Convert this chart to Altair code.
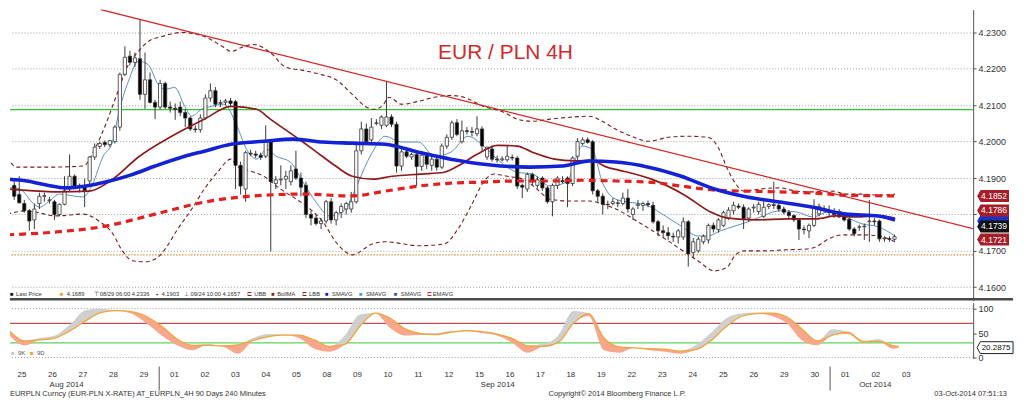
import altair as alt
import pandas as pd

# ---------------- 4H candles (index 0 = 25 Aug 2014 00:00, 6 bars per day) ----------------
opens = [4.1880,4.1855,4.1830,4.1810,4.1785,4.1830, 4.1850,4.1838,4.1835,4.1800,4.1828,4.1870,
         4.1905,4.1875,4.1875,4.1892,4.1958,4.1987, 4.1998,4.1992,4.2000,4.2040,4.2185,4.2235,
         4.2218,4.2228,4.2130,4.2170,4.2108,4.2095, 4.2160,4.2095,4.2092,4.2095,4.2080,4.2065,
         4.2035,4.2033,4.2065,4.2120,4.2140,4.2105, 4.2108,4.2112,4.2110,4.1935,4.1870,4.1968,
         4.1966,4.1963,4.1960,4.2000,4.1885,4.1895, 4.1897,4.1890,4.1925,4.1900,4.1880,4.1800,
         4.1790,4.1775,4.1782,4.1835,4.1785,4.1805, 4.1815,4.1815,4.1835,4.1975,4.2035,4.2005,
         4.2050,4.2045,4.2045,4.2068,4.2048,4.1933, 4.1972,4.1958,4.1965,4.1932,4.1963,4.1935,
         4.1952,4.1930,4.1988,4.2012,4.2052,4.2000, 4.2030,4.2028,4.2022,4.2035,4.1958,4.1980,
         4.1952,4.1950,4.1950,4.1957,4.1955,4.1880, 4.1870,4.1910,4.1880,4.1900,4.1873,4.1835,
         4.1880,4.1893,4.1900,4.1885,4.1960,4.1995, 4.2005,4.2000,4.1865,4.1850,4.1828,4.1830,
         4.1830,4.1830,4.1845,4.1800,4.1825,4.1825, 4.1830,4.1825,4.1780,4.1755,4.1750,4.1740,
         4.1738,4.1738,4.1780,4.1695,4.1700,4.1725, 4.1730,4.1770,4.1758,4.1770,4.1790,4.1810,
         4.1823,4.1820,4.1790,4.1818,4.1808,4.1795, 4.1822,4.1827,4.1825,4.1815,4.1806,4.1797,
         4.1785,4.1760,4.1755,4.1770,4.1802,4.1815, 4.1808,4.1808,4.1808,4.1795,4.1787,4.1760,
         4.1765,4.1766,4.1780,4.1782,4.1782,4.1733, 4.1733,4.1732]
highs = [4.1895,4.1905,4.1840,4.1815,4.1830,4.1860, 4.1860,4.1848,4.1840,4.1830,4.1905,4.1965,
         4.1910,4.1885,4.1898,4.1960,4.1995,4.2000, 4.2003,4.2005,4.2045,4.2190,4.2262,4.2250,
         4.2245,4.2336,4.2245,4.2190,4.2115,4.2170, 4.2165,4.2110,4.2105,4.2110,4.2090,4.2070,
         4.2045,4.2075,4.2130,4.2160,4.2150,4.2115, 4.2118,4.2120,4.2115,4.1945,4.1975,4.1978,
         4.1975,4.1970,4.2045,4.2005,4.1905,4.1935, 4.1920,4.1935,4.1975,4.1915,4.1890,4.1810,
         4.1800,4.1790,4.1840,4.1845,4.1810,4.1830, 4.1835,4.1862,4.2000,4.2055,4.2050,4.2065,
         4.2062,4.2072,4.2167,4.2075,4.2055,4.1985, 4.1985,4.1970,4.1975,4.1975,4.1970,4.1965,
         4.1960,4.1995,4.2020,4.2058,4.2062,4.2058, 4.2040,4.2040,4.2070,4.2042,4.1985,4.1990,
         4.1962,4.1960,4.1990,4.1965,4.1960,4.1885, 4.1915,4.1915,4.1905,4.1905,4.1878,4.1885,
         4.1905,4.1905,4.1905,4.1960,4.2010,4.2012, 4.2012,4.2005,4.1870,4.1858,4.1838,4.1845,
         4.1840,4.1860,4.1870,4.1820,4.1840,4.1835, 4.1838,4.1835,4.1785,4.1770,4.1765,4.1750,
         4.1760,4.1792,4.1785,4.1735,4.1738,4.1745, 4.1775,4.1778,4.1790,4.1810,4.1820,4.1835,
         4.1830,4.1828,4.1820,4.1828,4.1835,4.1842, 4.1830,4.1890,4.1835,4.1822,4.1812,4.1800,
         4.1790,4.1770,4.1775,4.1842,4.1830,4.1825, 4.1825,4.1818,4.1815,4.1800,4.1792,4.1765,
         4.1772,4.1775,4.1840,4.1790,4.1786,4.1740, 4.1740,4.1745]
lows = [4.1840,4.1830,4.1805,4.1755,4.1760,4.1815, 4.1835,4.1830,4.1785,4.1795,4.1825,4.1862,
        4.1872,4.1860,4.1820,4.1880,4.1950,4.1980, 4.1985,4.1985,4.1995,4.2030,4.2180,4.2210,
        4.2205,4.2115,4.2090,4.2105,4.2062,4.2088, 4.2090,4.2080,4.2060,4.2070,4.2040,4.2030,
        4.2025,4.2025,4.2060,4.2110,4.2095,4.2095, 4.2100,4.2095,4.1870,4.1855,4.1835,4.1960,
        4.1955,4.1950,4.1955,4.1698,4.1870,4.1880, 4.1870,4.1880,4.1895,4.1850,4.1790,4.1770,
        4.1770,4.1760,4.1775,4.1775,4.1770,4.1790, 4.1800,4.1805,4.1830,4.1965,4.1995,4.1995,
        4.2045,4.2035,4.2040,4.2040,4.1915,4.1920, 4.1955,4.1950,4.1878,4.1920,4.1925,4.1920,
        4.1920,4.1925,4.1980,4.2005,4.2015,4.1995, 4.2020,4.2015,4.2015,4.1975,4.1950,4.1945,
        4.1942,4.1945,4.1945,4.1948,4.1870,4.1845, 4.1862,4.1880,4.1872,4.1865,4.1830,4.1795,
        4.1870,4.1885,4.1820,4.1878,4.1950,4.1990, 4.1995,4.1855,4.1835,4.1800,4.1815,4.1825,
        4.1820,4.1825,4.1805,4.1785,4.1815,4.1810, 4.1820,4.1775,4.1740,4.1735,4.1730,4.1725,
        4.1720,4.1730,4.1657,4.1680,4.1695,4.1718, 4.1720,4.1750,4.1750,4.1765,4.1785,4.1800,
        4.1815,4.1760,4.1780,4.1805,4.1800,4.1790, 4.1815,4.1815,4.1808,4.1800,4.1790,4.1780,
        4.1730,4.1745,4.1735,4.1765,4.1795,4.1805, 4.1795,4.1790,4.1790,4.1780,4.1755,4.1740,
        4.1755,4.1730,4.1725,4.1770,4.1725,4.1725, 4.1725,4.1728]
closes = [4.1850,4.1832,4.1810,4.1782,4.1815,4.1850, 4.1852,4.1840,4.1800,4.1828,4.1865,4.1905,
          4.1875,4.1880,4.1865,4.1958,4.1985,4.1995, 4.1992,4.2003,4.2040,4.2185,4.2232,4.2218,
          4.2230,4.2130,4.2170,4.2108,4.2095,4.2160, 4.2095,4.2092,4.2088,4.2080,4.2065,4.2035,
          4.2033,4.2065,4.2120,4.2140,4.2103,4.2108, 4.2112,4.2105,4.1935,4.1878,4.1970,4.1966,
          4.1963,4.1957,4.2000,4.1890,4.1895,4.1897, 4.1905,4.1920,4.1900,4.1875,4.1800,4.1790,
          4.1775,4.1782,4.1835,4.1785,4.1805,4.1822, 4.1830,4.1835,4.1975,4.2035,4.2000,4.2040,
          4.2052,4.2068,4.2068,4.2048,4.1933,4.1972, 4.1960,4.1965,4.1932,4.1963,4.1938,4.1952,
          4.1930,4.1988,4.2012,4.2052,4.2020,4.2030, 4.2028,4.2026,4.2035,4.1988,4.1985,4.1952,
          4.1950,4.1953,4.1960,4.1955,4.1878,4.1875, 4.1910,4.1890,4.1895,4.1873,4.1835,4.1880,
          4.1900,4.1890,4.1885,4.1955,4.2000,4.2005, 4.1998,4.1865,4.1850,4.1828,4.1827,4.1835,
          4.1832,4.1845,4.1815,4.1815,4.1828,4.1830, 4.1827,4.1780,4.1755,4.1750,4.1742,4.1738,
          4.1755,4.1780,4.1692,4.1725,4.1732,4.1740, 4.1770,4.1760,4.1785,4.1805,4.1812,4.1825,
          4.1820,4.1788,4.1815,4.1820,4.1828,4.1820, 4.1827,4.1825,4.1815,4.1806,4.1797,4.1785,
          4.1760,4.1758,4.1770,4.1822,4.1822,4.1815, 4.1806,4.1800,4.1793,4.1785,4.1760,4.1747,
          4.1766,4.1768,4.1782,4.1780,4.1733,4.1735, 4.1732,4.1739]

# ---------------- overlay studies (bar index, price) ----------------
sma_blue_j = [-1.4, 2.5, 6.4, 10.3, 14.3, 18.2, 23.1, 28.0, 33.9, 37.8, 43.1, 49.6, 55.5, 61.4, 67.2, 73.7,
              80.4, 86.8, 94.7, 102.5, 109.0, 114.3, 119.6, 126.1, 132.6, 139.2, 145.7, 152.2, 158.8, 165.3, 171.8, 175.1]
sma_blue_v = [4.1897, 4.1892, 4.1881, 4.1873, 4.1878, 4.1889, 4.1908, 4.1933, 4.1960, 4.1974, 4.1993, 4.2001,
              4.2007, 4.1999, 4.1996, 4.1993, 4.1971, 4.1952, 4.1936, 4.1930, 4.1933, 4.1947, 4.1944, 4.1930,
              4.1905, 4.1870, 4.1848, 4.1834, 4.1820, 4.1801, 4.1796, 4.1785]
ema_j = [-1.4, 8.4, 18.2, 28.0, 37.8, 47.6, 57.4, 67.2, 73.7, 80.4, 86.8, 93.3, 100.0, 106.5, 112.9, 119.6,
         126.1, 132.6, 139.2, 145.7, 152.2, 158.8, 165.3, 175.1]
ema_v = [4.1744, 4.1752, 4.1768, 4.1801, 4.1834, 4.1851, 4.1856, 4.1851, 4.1864, 4.1878, 4.1886, 4.1889,
         4.1892, 4.1892, 4.1894, 4.1892, 4.1889, 4.1878, 4.1867, 4.1864, 4.1862, 4.1859, 4.1853, 4.1851]
bma_j = [-1.4, 5.05, 8.4, 14.9, 19.6, 24.7, 31.3, 37.8, 43.1, 48.2, 50.9, 57.4, 59.4, 63.9, 67.2, 71.2, 75.1,
         80.9, 85.5, 88.2, 92.1, 96.1, 100.0, 103.0, 107.4, 111.4, 114.7, 117.8, 120.2, 126.7, 133.3, 138.4,
         141.8, 147.7, 153.6, 159.4, 163.4, 167.3, 171.8, 175.1]
bma_v = [4.1870, 4.1864, 4.1862, 4.1864, 4.1897, 4.1958, 4.2015, 4.2062, 4.2097, 4.2089, 4.2062, 4.1999,
         4.1979, 4.1933, 4.1905, 4.1897, 4.1905, 4.1911, 4.1916, 4.1933, 4.1966, 4.1990, 4.1988, 4.1971,
         4.1952, 4.1947, 4.1949, 4.1930, 4.1922, 4.1897, 4.1853, 4.1807, 4.1790, 4.1785, 4.1788, 4.1788,
         4.1796, 4.1793, 4.1796, 4.1790]
ubb_j = [-1.4, 0.5, 6.4, 13.7, 16.2, 18.2, 20.2, 22.7, 24.7, 26.6, 29.4, 33.3, 37.8, 41.7, 43.1, 45.7, 47.6,
         50.9, 54.1, 57.4, 60.8, 63.9, 67.2, 69.8, 71.2, 73.1, 74.5, 77.0, 80.4, 83.5, 86.8, 89.4, 93.3, 97.3,
         100.0, 103.1, 106.5, 110.4, 114.3, 116.9, 119.6, 122.7, 126.1, 130.0, 133.9, 137.9, 139.8, 141.8,
         143.2, 145.1, 148.3, 152.2, 155.5, 158.8, 162.8, 165.3, 168.6, 171.8, 175.1]
ubb_v = [4.1958, 4.1930, 4.1930, 4.1933, 4.1985, 4.2048, 4.2122, 4.2212, 4.2248, 4.2275, 4.2289, 4.2300,
         4.2289, 4.2259, 4.2248, 4.2262, 4.2267, 4.2245, 4.2204, 4.2196, 4.2185, 4.2171, 4.2130, 4.2097,
         4.2089, 4.2097, 4.2122, 4.2103, 4.2111, 4.2122, 4.2127, 4.2122, 4.2097, 4.2081, 4.2062, 4.2056,
         4.2062, 4.2067, 4.2070, 4.2056, 4.2034, 4.2015, 4.2001, 4.2012, 4.2015, 4.2012, 4.1988, 4.1925,
         4.1889, 4.1864, 4.1870, 4.1873, 4.1864, 4.1862, 4.1864, 4.1856, 4.1856, 4.1853, 4.1856]
lbb_j = [-1.4, 2.5, 8.4, 13.7, 16.8, 19.6, 21.5, 23.5, 26.0, 28.6, 30.0, 32.5, 35.3, 37.8, 40.4, 43.1, 44.3,
         47.0, 49.6, 52.9, 56.1, 58.8, 61.4, 63.9, 65.9, 67.2, 71.2, 73.7, 80.4, 85.5, 88.2, 90.8, 93.3, 95.3,
         98.0, 101.2, 103.9, 106.5, 110.4, 114.3, 116.9, 119.6, 124.1, 129.4, 132.6, 135.9, 139.2, 141.8,
         143.2, 145.1, 149.0, 153.6, 157.5, 159.4, 161.9, 164.7, 168.6, 171.8, 175.1]
lbb_v = [4.1801, 4.1810, 4.1796, 4.1801, 4.1782, 4.1747, 4.1700, 4.1673, 4.1670, 4.1683, 4.1705, 4.1760,
         4.1815, 4.1870, 4.1916, 4.1952, 4.1933, 4.1919, 4.1905, 4.1870, 4.1842, 4.1815, 4.1779, 4.1725,
         4.1697, 4.1689, 4.1719, 4.1725, 4.1714, 4.1719, 4.1760, 4.1823, 4.1889, 4.1911, 4.1905, 4.1897,
         4.1870, 4.1842, 4.1837, 4.1837, 4.1829, 4.1815, 4.1779, 4.1733, 4.1703, 4.1673, 4.1645, 4.1656,
         4.1686, 4.1700, 4.1700, 4.1703, 4.1705, 4.1711, 4.1733, 4.1744, 4.1744, 4.1741, 4.1725]
thin_j = [-1.4, 1.1, 3.9, 5.05, 7.0, 9.0, 11.7, 13.7, 15.6, 17.6, 19.6, 20.7, 22.7, 24.7, 26.6, 28.6, 30.0,
          31.9, 33.9, 35.3, 37.2, 39.2, 41.7, 44.3, 46.2, 48.2, 50.2, 52.1, 54.9, 57.4, 60.0, 62.7, 65.9, 67.2,
          71.2, 73.7, 77.0, 80.4, 83.5, 86.8, 90.2, 93.3, 96.7, 100.0, 103.1, 106.5, 109.8, 112.9, 114.9,
          116.9, 119.6, 126.1, 129.4, 132.6, 135.9, 137.9, 140.4, 143.2, 145.7, 148.3, 152.2, 155.5, 158.8,
          161.9, 165.3, 168.6, 171.8, 175.1]
thin_v = [4.1875, 4.1870, 4.1829, 4.1820, 4.1837, 4.1856, 4.1851, 4.1848, 4.1884, 4.1958, 4.2001, 4.2075,
          4.2166, 4.2221, 4.2212, 4.2158, 4.2144, 4.2149, 4.2097, 4.2070, 4.2089, 4.2097, 4.2103, 4.2042,
          4.1979, 4.1952, 4.1979, 4.1960, 4.1944, 4.1889, 4.1834, 4.1796, 4.1815, 4.1851, 4.1971, 4.2015,
          4.1999, 4.1999, 4.1960, 4.1971, 4.2015, 4.1988, 4.1944, 4.1916, 4.1911, 4.1878, 4.1889, 4.1988,
          4.1979, 4.1889, 4.1842, 4.1823, 4.1796, 4.1768, 4.1741, 4.1741, 4.1755, 4.1768, 4.1779, 4.1793,
          4.1810, 4.1807, 4.1793, 4.1807, 4.1793, 4.1774, 4.1766, 4.1741]
trend_j = [17.2, 192.4]
trend_v = [4.2363, 4.1755]
green_level = 4.2088
orange_level = 4.1689

# value tags on the price axis (shown value, placement, colour), bottom to top;
# the blue SMAVG tag is almost hidden behind its neighbours in the original
tag_txt = ["4.1721", "", "4.1852", "4.1786", "4.1739"]
tag_pos = [4.1731, 4.1782, 4.1851, 4.1811, 4.1767]
tag_col = ["#a51d27", "#1a33c4", "#a51d27", "#a51d27", "#111111"]
price_ticks = [4.16, 4.17, 4.18, 4.19, 4.20, 4.21, 4.22, 4.23]
hidden_tick = 4.18   # its label sits under the value tags

# ---------------- stochastic (9K / 9D) ----------------
stoch_j = list(range(0, 175, 3)) + [175]
stoch_D = [55, 34, 36, 40, 55, 75, 92, 96, 94, 84, 64, 38, 25, 25, 24, 26, 35, 43, 46, 46,
           36, 23, 27, 64, 91, 80, 58, 49, 47, 52, 55, 53, 48, 39, 24, 23, 31, 70, 90, 40,
           22, 20, 18, 17, 13, 16, 34, 63, 84, 90, 91, 83, 58, 34, 46, 52, 33, 33, 24, 23]
stoch_K = [45, 25, 40, 45, 68, 97, 100, 96, 90, 70, 45, 25, 15, 28, 22, 8, 40, 48, 47, 40,
           18, 12, 45, 88, 90, 60, 45, 46, 50, 55, 54, 50, 45, 30, 10, 28, 45, 95, 85, 15,
           10, 20, 15, 12, 8, 25, 50, 80, 90, 92, 85, 70, 35, 25, 58, 48, 30, 38, 18, 20.29]
stoch_levels = [70, 30]
stoch_last = "20.2875"

# ---------------- date axis ----------------
day_txt = ["25", "26", "27", "28", "29", "01", "02", "03", "04", "05", "08", "09", "10", "11", "12",
           "15", "16", "17", "18", "19", "22", "23", "24", "25", "26", "29", "30", "01", "02", "03"]
month_txt = ["Aug 2014", "Sep 2014", "Oct 2014"]
month_j = [11.3, 96.1, 170.4]
month_sep_j = [29.5, 161.5]

title_text = "EUR / PLN 4H"
legend_items = [("■", "#111111", 0), ("Last Price", "#333333", 6), ("■", "#f0a030", 50), ("4.1689", "#333333", 57),
                ("⊤", "#333333", 84), ("08/29 06:00 4.2336", "#333333", 90), ("+", "#333333", 146),
                ("4.1903", "#333333", 152), ("⊥", "#333333", 175), ("09/24 10:00 4.1657", "#333333", 181),
                ("⊏", "#8b1a1a", 238), ("UBB", "#333333", 245), ("■", "#a01820", 262), ("BollMA", "#333333", 268),
                ("⊏", "#8b1a1a", 293), ("LBB", "#333333", 300), ("■", "#1515d0", 316), ("SMAVG", "#333333", 323),
                ("■", "#3d9be9", 350), ("SMAVG", "#333333", 357), ("■", "#1f5e9e", 385), ("SMAVG", "#333333", 392),
                ("⊏", "#e02020", 418), ("EMAVG", "#333333", 424)]
kd_items = [("■", "#c8c8c8", 1), ("9K", "#555555", 8), ("■", "#f0a030", 20), ("9D", "#555555", 27)]
footer_left = "EURPLN Curncy (EUR-PLN X-RATE) AT_EURPLN_4H 90 Days 240 Minutes"
footer_mid = "Copyright© 2014 Bloomberg Finance L.P."
footer_right = "03-Oct-2014 07:51:13"

# ---------------- layout ----------------
W = 966
HA, HB, HC = 292, 56, 33
FONT = "Liberation Sans"
xsc = alt.Scale(domain=[0.15, 189.64], nice=False, zero=False)
ysc = alt.Scale(domain=[4.1563, 4.2363], nice=False, zero=False)
ssc = alt.Scale(domain=[-2, 112.2], nice=False, zero=False)

YAX = alt.Axis(orient="right", values=price_ticks,
               labelExpr=f"abs(datum.value - {hidden_tick}) < 0.00001 ? '' : format(datum.value, '.4f')",
               grid=True, gridDash=[1, 2],
               gridColor="#9c9c9c", domainColor="#555555", tickColor="#555555", tickSize=3,
               labelFontSize=9, labelColor="#333333", labelFont=FONT, labelPadding=2, title=None)
SAX = alt.Axis(orient="right", values=[0, 50, 100], grid=False, domainColor="#555555",
               tickColor="#555555", tickSize=3, labelFontSize=9, labelColor="#333333",
               labelFont=FONT, labelPadding=2, title=None)


def X(field="j:Q"):
    return alt.X(field, scale=xsc, axis=None)


def price_line(js, vs, color, width, dash=None):
    mk = dict(color=color, strokeWidth=width, clip=True, interpolate="monotone")
    if dash:
        mk["strokeDash"] = dash
    return alt.Chart(pd.DataFrame({"j": js, "v": vs})).mark_line(**mk).encode(
        x=X(), y=alt.Y("v:Q", scale=ysc, axis=YAX))


cdf = pd.DataFrame({"j": list(range(len(opens))), "open": opens, "high": highs, "low": lows, "close": closes})

green = alt.Chart(pd.DataFrame({"v": [green_level]})).mark_rule(color="#2fc92f", strokeWidth=1.3).encode(
    y=alt.Y("v:Q", scale=ysc, axis=YAX))
orange = alt.Chart(pd.DataFrame({"v": [orange_level]})).mark_rule(
    color="#d9953c", strokeWidth=1.3, strokeDash=[1.5, 1.5]).encode(y=alt.Y("v:Q", scale=ysc, axis=YAX))

wicks = alt.Chart(cdf).mark_rule(color="#3a3a3a", strokeWidth=1, clip=True).encode(
    x=X(), y=alt.Y("low:Q", scale=ysc, axis=YAX), y2="high:Q")
bodies = alt.Chart(cdf).transform_calculate(
    dirn="datum.close >= datum.open ? 'up' : 'down'").mark_bar(
    width=3.2, stroke="#333333", strokeWidth=0.8, clip=True).encode(
    x=X(), y=alt.Y("open:Q", scale=ysc, axis=YAX), y2="close:Q",
    fill=alt.Fill("dirn:N", scale=alt.Scale(domain=["up", "down"], range=["#ffffff", "#000000"]), legend=None))

ubb = price_line(ubb_j, ubb_v, "#7a1c1c", 1.1, [4, 3])
lbb = price_line(lbb_j, lbb_v, "#7a1c1c", 1.1, [4, 3])
thin = price_line(thin_j, thin_v, "#5b8fc2", 1.0)
bma = price_line(bma_j, bma_v, "#8e1b1b", 1.7)
ema = price_line(ema_j, ema_v, "#e41f1f", 3.2, [7, 5])
smab = price_line(sma_blue_j, sma_blue_v, "#1222d4", 3.6)
trend = alt.Chart(pd.DataFrame({"j": trend_j, "v": trend_v})).mark_line(
    color="#d42424", strokeWidth=1.3, clip=True).encode(x=X(), y=alt.Y("v:Q", scale=ysc, axis=YAX))

title = alt.Chart(pd.DataFrame({"t": [title_text]})).mark_text(
    font=FONT, fontSize=21, color="#d02a2a").encode(text="t:N", x=alt.value(497), y=alt.value(44))

ldf = pd.DataFrame({"txt": [a for a, b, c in legend_items], "col": [b for a, b, c in legend_items],
                    "px": [c for a, b, c in legend_items]})
legend = alt.Chart(ldf).mark_text(align="left", baseline="middle", fontSize=5.8, font=FONT).encode(
    x=alt.X("px:Q", scale=None), y=alt.value(285), text="txt:N", color=alt.Color("col:N", scale=None))

sep = alt.Chart(pd.DataFrame({"a": [0]})).mark_rule(color="#4a4a4a", strokeWidth=2.5).encode(
    x=alt.value(0), x2=alt.value(W + 40), y=alt.value(HA - 1.5))

TAG = "M -1 0 L -0.78 -0.375 L 1 -0.375 L 1 0.375 L -0.78 0.375 Z"
tag_layers = []
for t, p, c in zip(tag_txt, tag_pos, tag_col):
    d = pd.DataFrame({"pos": [p], "txt": [t]})
    tag_layers.append(alt.Chart(d).mark_point(shape=TAG, size=1024, filled=True, opacity=1, color=c).encode(
        x=alt.value(W + 20), y=alt.Y("pos:Q", scale=ysc, axis=YAX)))
    if t:
        tag_layers.append(alt.Chart(d).mark_text(color="white", fontSize=8.5, font=FONT).encode(
            x=alt.value(W + 21), y=alt.Y("pos:Q", scale=ysc, axis=YAX), text="txt:N"))

panelA = alt.layer(green, orange, lbb, ubb, thin, wicks, bodies, bma, ema, smab, trend,
                   title, legend, sep, *tag_layers).properties(width=W, height=HA)

# ---------------- stochastic panel ----------------
sdf = pd.DataFrame({"j": stoch_j, "K": stoch_K, "D": stoch_D})
grey = alt.Chart(sdf).transform_calculate(hi="max(datum.K, datum.D)").mark_area(
    color="#cfcfcf", interpolate="monotone", clip=True).encode(
    x=X(), y=alt.Y("hi:Q", scale=ssc, axis=SAX), y2="D:Q")
salmon = alt.Chart(sdf).transform_calculate(lo="min(datum.K, datum.D)").mark_area(
    color="#f7a78c", interpolate="monotone", clip=True).encode(
    x=X(), y=alt.Y("lo:Q", scale=ssc, axis=SAX), y2="D:Q")
dline = alt.Chart(sdf).mark_line(color="#f2a33a", strokeWidth=1.3, interpolate="monotone", clip=True).encode(
    x=X(), y=alt.Y("D:Q", scale=ssc, axis=SAX))
dots = alt.Chart(pd.DataFrame({"v": [0, 100]})).mark_rule(
    color="#9c9c9c", strokeDash=[1, 2]).encode(y=alt.Y("v:Q", scale=ssc, axis=SAX))
lev = alt.Chart(pd.DataFrame({"v": stoch_levels, "c": ["#b9524e", "#5fd35f"]})).mark_rule(
    strokeWidth=1.2).encode(y=alt.Y("v:Q", scale=ssc, axis=SAX), color=alt.Color("c:N", scale=None))
TAG2 = "M -1 0 L -0.82 -0.33 L 1 -0.33 L 1 0.33 L -0.82 0.33 Z"
stag_d = pd.DataFrame({"v": [stoch_K[-1]], "t": [stoch_last]})
stag = alt.Chart(stag_d).mark_point(shape=TAG2, size=1300, fill="white", stroke="#222222",
                                     strokeWidth=1, opacity=1).encode(
    x=alt.value(W + 22), y=alt.Y("v:Q", scale=ssc, axis=SAX))
stag_t = alt.Chart(stag_d).mark_text(color="#111111", fontSize=8, font=FONT).encode(
    x=alt.value(W + 23), y=alt.Y("v:Q", scale=ssc, axis=SAX), text="t:N")
kdf = pd.DataFrame({"txt": [a for a, b, c in kd_items], "col": [b for a, b, c in kd_items],
                    "px": [c for a, b, c in kd_items]})
kd = alt.Chart(kdf).mark_text(align="left", baseline="middle", fontSize=6, font=FONT).encode(
    x=alt.X("px:Q", scale=None), y=alt.value(HB - 6), text="txt:N", color=alt.Color("col:N", scale=None))

panelB = alt.layer(dots, lev, grey, salmon, dline, kd, stag, stag_t).properties(width=W, height=HB)

# ---------------- date axis + footer ----------------
ddf = pd.DataFrame({"j": [6 * k + 2.5 for k in range(len(day_txt))], "t": day_txt})
days = alt.Chart(ddf).mark_text(fontSize=8, font=FONT, color="#333333").encode(
    x=X(), y=alt.value(11), text="t:N")
months = alt.Chart(pd.DataFrame({"j": month_j, "t": month_txt})).mark_text(
    fontSize=8, font=FONT, color="#333333").encode(x=X(), y=alt.value(21), text="t:N")
msep = alt.Chart(pd.DataFrame({"j": month_sep_j})).mark_rule(color="#555555", strokeWidth=1).encode(
    x=X(), y=alt.value(2), y2=alt.value(26))
f1 = alt.Chart(pd.DataFrame({"t": [footer_left]})).mark_text(
    align="left", fontSize=7.5, font=FONT, color="#333333").encode(x=alt.value(0), y=alt.value(30), text="t:N")
f2 = alt.Chart(pd.DataFrame({"t": [footer_mid]})).mark_text(
    align="center", fontSize=7.5, font=FONT, color="#333333").encode(x=alt.value(609), y=alt.value(30), text="t:N")
f3 = alt.Chart(pd.DataFrame({"t": [footer_right]})).mark_text(
    align="right", fontSize=7.5, font=FONT, color="#333333").encode(x=alt.value(W + 34), y=alt.value(30), text="t:N")

panelC = alt.layer(msep, days, months, f1, f2, f3).properties(width=W, height=HC)

chart = alt.vconcat(panelA, panelB, panelC, spacing=0).properties(
    padding={"left": 0, "right": 0, "top": 0, "bottom": 0}, background="white"
).configure_view(stroke="transparent")

chart.save("out.html", embed_options={"renderer": "svg", "actions": False})
